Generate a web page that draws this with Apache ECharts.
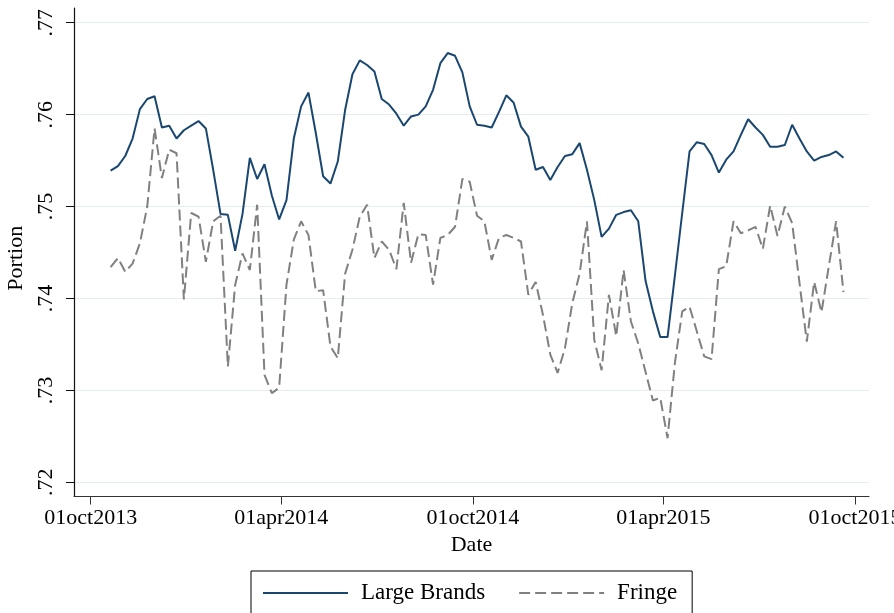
<!DOCTYPE html>
<html>
<head>
<meta charset="utf-8">
<script src="https://cdn.jsdelivr.net/npm/echarts@6/dist/echarts.min.js"></script>
<style>
  html, body { margin: 0; padding: 0; background: #fff; }
  #chart { width: 894px; height: 613px; }
</style>
</head>
<body>
<div id="chart"></div>
<script>
// Weekly shares, first week starting 20 Oct 2013
const firstWeek = Date.UTC(2013, 9, 20);
const DAY = 86400000;

const largeBrands = [
  0.7539, 0.7544, 0.7555, 0.7574, 0.7606, 0.7617, 0.7620, 0.7586, 0.7588, 0.7574,
  0.7583, 0.7588, 0.7593, 0.7585, 0.7540, 0.7492, 0.7491, 0.7452, 0.7492, 0.7553,
  0.7530, 0.7546, 0.7512, 0.7486, 0.7507, 0.7574, 0.7609, 0.7624, 0.7580, 0.7533,
  0.7525, 0.7549, 0.7605, 0.7644, 0.7659, 0.7654, 0.7647, 0.7617, 0.7611, 0.7601,
  0.7588, 0.7598, 0.7600, 0.7609, 0.7627, 0.7656, 0.7667, 0.7664, 0.7646, 0.7609,
  0.7589, 0.7588, 0.7586, 0.7603, 0.7621, 0.7613, 0.7587, 0.7576, 0.7540, 0.7543,
  0.7529, 0.7543, 0.7555, 0.7557, 0.7569, 0.7540, 0.7507, 0.7467, 0.7476, 0.7491,
  0.7494, 0.7496, 0.7484, 0.7419, 0.7386, 0.7358, 0.7358, 0.7425, 0.7493, 0.7560,
  0.7570, 0.7568, 0.7556, 0.7537, 0.7551, 0.7560, 0.7578, 0.7595, 0.7586, 0.7578,
  0.7565, 0.7565, 0.7567, 0.7589, 0.7574, 0.7560, 0.7550, 0.7554, 0.7556, 0.7560,
  0.7553
];

const fringe = [
  0.7434, 0.7444, 0.7429, 0.7438, 0.7460, 0.7500, 0.7585, 0.7531, 0.7562, 0.7558,
  0.7399, 0.7493, 0.7489, 0.7440, 0.7484, 0.7490, 0.7326, 0.7415, 0.7449, 0.7431,
  0.7502, 0.7317, 0.7297, 0.7303, 0.7415, 0.7464, 0.7484, 0.7469, 0.7408, 0.7409,
  0.7348, 0.7335, 0.7427, 0.7453, 0.7489, 0.7502, 0.7444, 0.7462, 0.7453, 0.7432,
  0.7504, 0.7439, 0.7470, 0.7469, 0.7415, 0.7466, 0.7469, 0.7478, 0.7530, 0.7527,
  0.7490, 0.7484, 0.7442, 0.7466, 0.7469, 0.7466, 0.7462, 0.7404, 0.7418, 0.7382,
  0.7339, 0.7319, 0.7346, 0.7395, 0.7427, 0.7484, 0.7355, 0.7322, 0.7404, 0.7359,
  0.7431, 0.7375, 0.7351, 0.7320, 0.7289, 0.7292, 0.7248, 0.7330, 0.7386, 0.7391,
  0.7364, 0.7337, 0.7334, 0.7432, 0.7435, 0.7484, 0.7471, 0.7474, 0.7478, 0.7454,
  0.7501, 0.7468, 0.7500, 0.7482, 0.7417, 0.7353, 0.7418, 0.7385, 0.7435, 0.7484,
  0.7407
];

const xTickDates = [
  Date.UTC(2013, 9, 1), Date.UTC(2014, 3, 1), Date.UTC(2014, 9, 1),
  Date.UTC(2015, 3, 1), Date.UTC(2015, 9, 1)
];
const yTicks = [0.72, 0.73, 0.74, 0.75, 0.76, 0.77];

const weeks = largeBrands.map((_, i) => firstWeek + i * 7 * DAY);
const pair = (vals) => vals.map((v, i) => [weeks[i], v]);

const MONTHS = ['jan','feb','mar','apr','may','jun','jul','aug','sep','oct','nov','dec'];
function stataDate(ts) {
  const d = new Date(ts);
  const dd = String(d.getUTCDate()).padStart(2, '0');
  return dd + MONTHS[d.getUTCMonth()] + d.getUTCFullYear();
}

const FONT = 'Liberation Serif';
const chart = echarts.init(document.getElementById('chart'), null, { renderer: 'canvas' });

chart.setOption({
  animation: false,
  backgroundColor: '#ffffff',
  grid: { left: 74, right: 25, top: 8, bottom: 116.5, containLabel: false, outerBoundsMode: 'none' },
  xAxis: {
    type: 'value',
    min: xTickDates[0] - 15.95 * DAY,
    max: xTickDates[0] + 743.4 * DAY,
    name: 'Date',
    nameLocation: 'middle',
    nameGap: 36,
    nameTextStyle: { fontFamily: FONT, fontSize: 22, color: '#000' },
    axisLine: { show: true, onZero: false, lineStyle: { color: '#333', width: 1.2 } },
    axisTick: { show: true, length: 8, customValues: xTickDates, lineStyle: { color: '#333' } },
    axisLabel: {
      customValues: xTickDates,
      formatter: (v) => stataDate(v),
      alignMinLabel: 'center',
      alignMaxLabel: 'center',
      hideOverlap: false,
      fontFamily: FONT, fontSize: 22, color: '#000', margin: 11
    },
    splitLine: { show: false }
  },
  yAxis: {
    type: 'value',
    min: 0.71846,
    max: 0.7716,
    name: 'Portion',
    nameLocation: 'middle',
    nameGap: 28,
    nameRotate: 90,
    nameTextStyle: { fontFamily: FONT, fontSize: 22, color: '#000', padding: [0, 12, 0, 0] },
    axisLine: { show: true, onZero: false, lineStyle: { color: '#111', width: 1.2 } },
    axisTick: { show: true, length: 8, customValues: yTicks, lineStyle: { color: '#111' } },
    axisLabel: {
      customValues: yTicks,
      rotate: 90,
      formatter: (v) => v.toFixed(2).replace(/^0/, ''),
      fontFamily: FONT, fontSize: 22, color: '#000', margin: 17
    },
    splitLine: { show: true, lineStyle: { color: '#e4edf1', width: 1.2 } }
  },
  legend: {
    data: ['Large Brands', 'Fringe'],
    left: 251,
    top: 571,
    orient: 'horizontal',
    itemWidth: 85,
    itemHeight: 14,
    itemGap: 33,
    padding: [10, 15, 30, 11],
    borderColor: '#000',
    borderWidth: 1,
    borderRadius: 0,
    itemStyle: { opacity: 0 },
    textStyle: { fontFamily: FONT, fontSize: 23, color: '#000', lineHeight: 24, padding: [0, 0, 0, 8] }
  },
  series: [
    {
      name: 'Large Brands',
      type: 'line',
      data: pair(largeBrands),
      symbol: 'none',
      lineStyle: { color: '#1a476f', width: 2 },
      itemStyle: { color: '#1a476f' }
    },
    {
      name: 'Fringe',
      type: 'line',
      data: pair(fringe),
      symbol: 'none',
      lineStyle: { color: '#808080', width: 2, type: [11, 5] },
      itemStyle: { color: '#808080' }
    }
  ]
});
</script>
</body>
</html>
